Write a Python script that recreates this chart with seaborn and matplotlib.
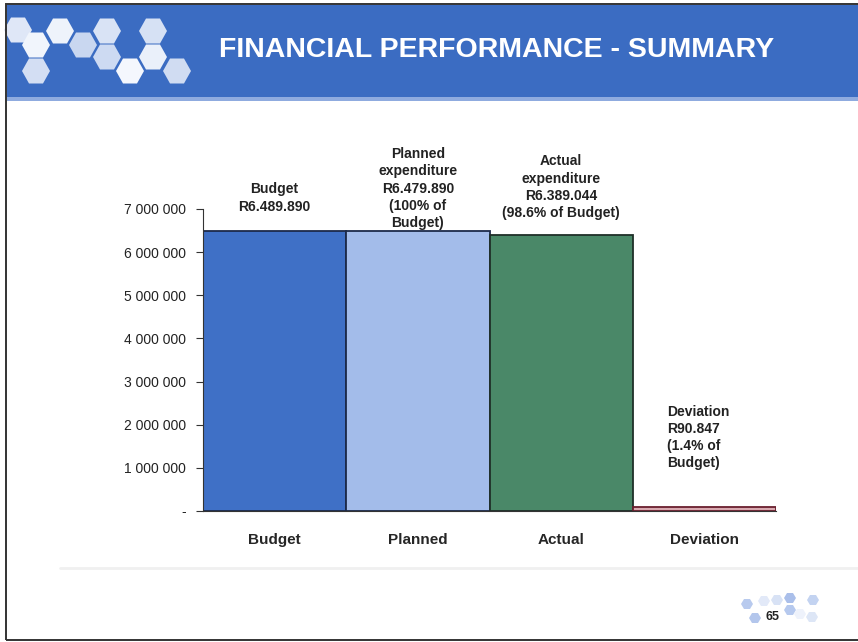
import matplotlib
matplotlib.use("Agg")
import matplotlib.pyplot as plt
from matplotlib.patches import Rectangle, Polygon
from matplotlib.ticker import FuncFormatter
import seaborn as sns
import pandas as pd
import numpy as np

# Data
categories = ["Budget", "Planned", "Actual", "Deviation"]
values = [6489890, 6479890, 6389044, 90847]
bar_labels = [
    "Budget\nR6.489.890",
    "Planned\nexpenditure\nR6.479.890\n(100% of\nBudget)",
    "Actual\nexpenditure\nR6.389.044\n(98.6% of Budget)",
    "Deviation\nR90.847\n(1.4% of\nBudget)",
]
y_ticks = [0, 1000000, 2000000, 3000000, 4000000, 5000000, 6000000, 7000000]
title = "FINANCIAL PERFORMANCE - SUMMARY"
page_number = "65"

fill_colors = ["#3f70c6", "#a3bcea", "#4a8868", "#d9a9b0"]
edge_colors = ["#1c2a4a", "#1c2a4a", "#1f2f28", "#6a1f2e"]

sns.set_theme(style="white")
plt.rcParams["font.family"] = ["Liberation Sans", "DejaVu Sans"]

W, H = 858, 642
fig = plt.figure(figsize=(W / 100, H / 100), dpi=100)
fig.patch.set_facecolor("white")


def fx(px):
    return px / W


def fy(py):
    return 1 - py / H


def hexagon(cx, cy, w, h, color, z=1):
    """Flat-top hexagon given in pixel units."""
    ang = np.deg2rad(np.arange(0, 360, 60))
    xs = cx + (w / 2) * np.cos(ang)
    ys = cy - (h / 2) * np.sin(ang) / np.sin(np.deg2rad(60))
    pts = np.column_stack([fx(xs), fy(ys)])
    fig.add_artist(Polygon(pts, closed=True, transform=fig.transFigure,
                           facecolor=color, edgecolor="none", zorder=z))


# Title banner
fig.add_artist(Rectangle((fx(7), fy(97)), fx(851), 92 / H, transform=fig.transFigure,
                         facecolor="#3b6cc2", edgecolor="none", zorder=0))
fig.add_artist(Rectangle((fx(7), fy(101)), fx(851), 4 / H, transform=fig.transFigure,
                         facecolor="#8fabdf", edgecolor="none", zorder=0))

# Hexagon decoration in the banner
hexes = [(18, 30, "#dfe7f7"), (36, 45, "#f1f5fc"), (60, 31, "#eef3fb"), (83, 45, "#c9d7f0"),
         (107, 31, "#d9e3f5"), (107, 57, "#cddaf2"), (36, 71, "#d3def3"), (130, 71, "#f4f7fd"),
         (153, 31, "#d6e1f4"), (153, 57, "#eaf0fa"), (177, 71, "#d0dcf2")]
for hx, hy, c in hexes:
    hexagon(hx, hy, 28, 25, c)

fig.text(fx(497), fy(50), title, color="white", fontsize=20.5, fontweight="bold",
         ha="center", va="center")

# Slide frame
fig.add_artist(Rectangle((fx(6), fy(640)), fx(856), 636 / H, transform=fig.transFigure,
                         facecolor="none", edgecolor="#333333", linewidth=1.4, zorder=5))
fig.add_artist(plt.Line2D([fx(60), fx(858)], [fy(568), fy(568)], transform=fig.transFigure,
                          color="#f0f0f0", linewidth=2, zorder=1))

# Footer hexagons and page number
foot = [(747, 604, "#b8caee"), (764, 601, "#e2e9f8"), (777, 600, "#d8e2f5"),
        (790, 598, "#aabfea"), (813, 600, "#c3d3f1"), (790, 610, "#b6c9ee"),
        (800, 614, "#eef2fb"), (755, 618, "#b3c6ec"), (812, 617, "#dde6f6")]
for hx, hy, c in foot:
    hexagon(hx, hy, 12, 10, c)
fig.text(fx(772), fy(617), page_number, fontsize=9, fontweight="bold", color="#222222",
         ha="center", va="center", zorder=3)

# Chart
ax = fig.add_axes([fx(203), fy(511), fx(776 - 203), 302 / H])
df = pd.DataFrame({"category": categories, "value": values})
sns.barplot(data=df, x="category", y="value", hue="category", palette=fill_colors,
            width=1.0, legend=False, ax=ax, saturation=1)
for patch, ec in zip(ax.patches, edge_colors):
    patch.set_edgecolor(ec)
    patch.set_linewidth(1.3)

ax.set_xlim(-0.5, 3.5)
ax.set_ylim(0, 7000000)
ax.set_yticks(y_ticks)
ax.yaxis.set_major_formatter(FuncFormatter(
    lambda v, p: "-" if v == 0 else f"{int(v):,}".replace(",", " ")))
ax.set_xticks([0, 1, 2, 3])
ax.set_xticklabels(categories, fontweight="bold", fontsize=11)
ax.set_xticks([-0.5, 0.5, 1.5, 2.5, 3.5], minor=True)
ax.tick_params(axis="x", which="major", length=0, pad=16)
ax.tick_params(axis="x", which="minor", length=5, width=0.8, color="#333333", direction="out")
ax.tick_params(axis="y", length=5, width=0.8, color="#333333", direction="out",
               labelsize=10, pad=7)
ax.xaxis.set_tick_params(bottom=True)
ax.yaxis.set_tick_params(left=True)
for lab in ax.get_yticklabels():
    lab.set_color("#222222")
ax.set_xlabel("")
ax.set_ylabel("")
for s in ["top", "right"]:
    ax.spines[s].set_visible(False)
for s in ["left", "bottom"]:
    ax.spines[s].set_color("#333333")
    ax.spines[s].set_linewidth(0.8)
ax.patch.set_alpha(0)

# Value annotations above the bars
offsets = [(0, 400000), (0, 30000), (0, 350000), (0, 850000)]
for i, (lab, v) in enumerate(zip(bar_labels, values)):
    dx, dy = offsets[i]
    ha = "center" if i < 3 else "left"
    xpos = i + dx if i < 3 else 2.74
    ax.text(xpos, v + dy, lab, ha=ha, va="bottom", fontsize=10, fontweight="bold",
            color="#222222", linespacing=1.3, clip_on=False)

fig.savefig("out.png", dpi=100)
